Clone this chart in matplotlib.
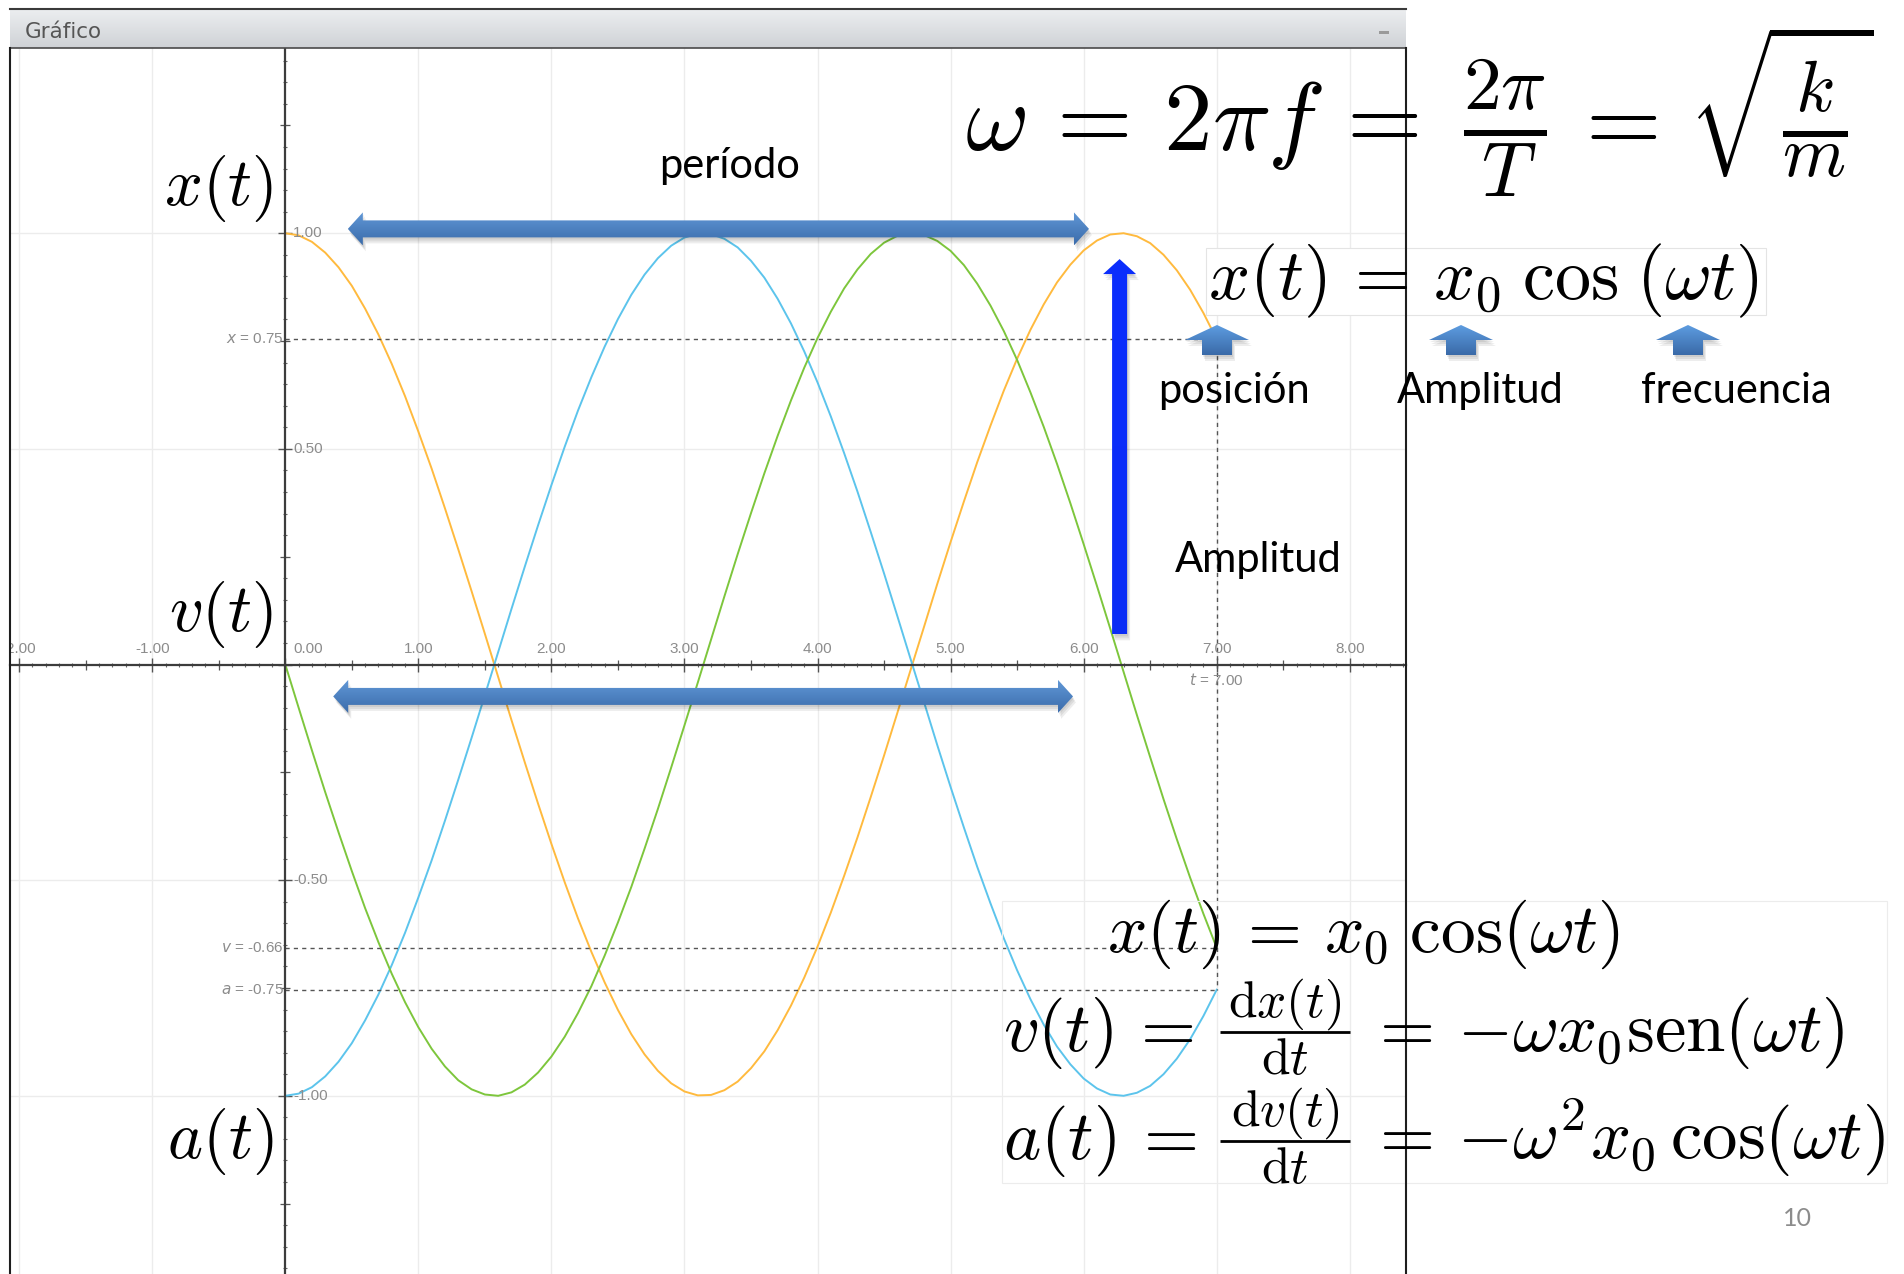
# simple harmonic motion: x(t), v(t) and a(t) drawn in a grapher-style window
# with the slide formulas and arrows laid over it
import numpy as np
import matplotlib.pyplot as plt
from matplotlib.patches import Polygon, Rectangle
from matplotlib.colors import LinearSegmentedColormap
from matplotlib.ticker import MultipleLocator

plt.rcParams['mathtext.fontset'] = 'cm'

#########
# DATA
#########

# sampled curves (omega = 1, x0 = 1), t from 0 to 7
t_vals = [0.0, 0.1, 0.2, 0.3, 0.4, 0.5, 0.6, 0.7, 0.8, 0.9,
          1.0, 1.1, 1.2, 1.3, 1.4, 1.5, 1.6, 1.7, 1.8, 1.9,
          2.0, 2.1, 2.2, 2.3, 2.4, 2.5, 2.6, 2.7, 2.8, 2.9,
          3.0, 3.1, 3.2, 3.3, 3.4, 3.5, 3.6, 3.7, 3.8, 3.9,
          4.0, 4.1, 4.2, 4.3, 4.4, 4.5, 4.6, 4.7, 4.8, 4.9,
          5.0, 5.1, 5.2, 5.3, 5.4, 5.5, 5.6, 5.7, 5.8, 5.9,
          6.0, 6.1, 6.2, 6.3, 6.4, 6.5, 6.6, 6.7, 6.8, 6.9, 7.0]
x_vals = [1.000, 0.995, 0.980, 0.955, 0.921, 0.878, 0.825, 0.765, 0.697, 0.622,
          0.540, 0.454, 0.362, 0.267, 0.170, 0.071, -0.029, -0.129, -0.227, -0.323,
          -0.416, -0.505, -0.589, -0.666, -0.737, -0.801, -0.857, -0.904, -0.942, -0.971,
          -0.990, -0.999, -0.998, -0.987, -0.967, -0.936, -0.897, -0.848, -0.791, -0.726,
          -0.654, -0.575, -0.490, -0.401, -0.307, -0.211, -0.112, -0.012, 0.087, 0.187,
          0.284, 0.378, 0.469, 0.554, 0.635, 0.709, 0.776, 0.835, 0.886, 0.927,
          0.960, 0.983, 0.997, 1.000, 0.993, 0.977, 0.950, 0.914, 0.869, 0.815, 0.754]
v_vals = [0.000, -0.100, -0.199, -0.296, -0.389, -0.479, -0.565, -0.644, -0.717, -0.783,
          -0.841, -0.891, -0.932, -0.964, -0.985, -0.997, -1.000, -0.992, -0.974, -0.946,
          -0.909, -0.863, -0.808, -0.746, -0.675, -0.598, -0.516, -0.427, -0.335, -0.239,
          -0.141, -0.042, 0.058, 0.158, 0.256, 0.351, 0.443, 0.530, 0.612, 0.688,
          0.757, 0.818, 0.872, 0.916, 0.952, 0.978, 0.994, 1.000, 0.996, 0.982,
          0.959, 0.926, 0.883, 0.832, 0.773, 0.706, 0.631, 0.551, 0.465, 0.374,
          0.279, 0.182, 0.083, -0.017, -0.117, -0.215, -0.312, -0.405, -0.494, -0.578, -0.657]
a_vals = [-1.000, -0.995, -0.980, -0.955, -0.921, -0.878, -0.825, -0.765, -0.697, -0.622,
          -0.540, -0.454, -0.362, -0.267, -0.170, -0.071, 0.029, 0.129, 0.227, 0.323,
          0.416, 0.505, 0.589, 0.666, 0.737, 0.801, 0.857, 0.904, 0.942, 0.971,
          0.990, 0.999, 0.998, 0.987, 0.967, 0.936, 0.897, 0.848, 0.791, 0.726,
          0.654, 0.575, 0.490, 0.401, 0.307, 0.211, 0.112, 0.012, -0.087, -0.187,
          -0.284, -0.378, -0.469, -0.554, -0.635, -0.709, -0.776, -0.835, -0.886, -0.927,
          -0.960, -0.983, -0.997, -1.000, -0.993, -0.977, -0.950, -0.914, -0.869, -0.815, -0.754]

x_ticks = [-2, -1, 0, 1, 2, 3, 4, 5, 6, 7, 8]
y_ticks = [1.0, 0.5, -0.5, -1.0]

# arrows in graph units: (t0, y0, t1, y1)
period_top = (0.47, 1.01, 6.04, 1.01)
period_bottom = (0.36, -0.074, 5.92, -0.074)
amplitude_arrow = (6.27, 0.07, 6.27, 0.94)

# formulas, split where the fractions use a different size
omega_parts = [r"$\omega\,=\,2\pi f\,=$", r"$\frac{2\pi}{T}$", r"$=$",
               r"$\sqrt{\frac{k}{m}}$"]
eq_x_box = r"$x(t)\,=\,x_0\;\mathrm{cos}\;(\omega t)$"
eq_x = r"$x(t)\,=\,x_0\;\cos(\omega t)$"
v_parts = [r"$v(t)\,=$", r"$\mathrm{d}x(t)$", r"$\mathrm{d}t$",
           r"$=\,{-\omega x_0\mathrm{sen}(\omega t)}$"]
a_parts = [r"$a(t)\,=$", r"$\mathrm{d}v(t)$", r"$\mathrm{d}t$",
           r"$=\,{-\omega^2 x_0\,\cos(\omega t)}$"]
side_labels = [r"$x(t)$", r"$v(t)$", r"$a(t)$"]
term_labels = ["posición", "Amplitud", "frecuencia"]

#########
# FIGURE AND GRAPH WINDOW
#########

W, H = 1904, 1274
fig = plt.figure(figsize=(W / 100, H / 100), dpi=100)
fig.patch.set_facecolor('white')

# window edges and graph origin, in pixels
win_left, win_right, win_top = 10, 1406, 48
org_x, org_y = 285.3, 664.5
unit_x, unit_y = 133.06, 431.3

ax = fig.add_axes([win_left / W, 0, (win_right - win_left) / W, 1 - win_top / H])
ax.set_xlim((win_left - org_x) / unit_x, (win_right - org_x) / unit_x)
ax.set_ylim((org_y - H) / unit_y, (org_y - win_top) / unit_y)
ax.patch.set_facecolor('white')

for side in ['top', 'right']:
    ax.spines[side].set_visible(False)
for side in ['left', 'bottom']:
    ax.spines[side].set_position(('data', 0))
    ax.spines[side].set_color('#3c3c3c')
    ax.spines[side].set_linewidth(1.6)
    ax.spines[side].set_zorder(3)

ax.xaxis.set_major_locator(MultipleLocator(1))
ax.xaxis.set_minor_locator(MultipleLocator(0.1))
ax.yaxis.set_major_locator(MultipleLocator(0.5))
ax.yaxis.set_minor_locator(MultipleLocator(0.05))
ax.tick_params(which='major', direction='inout', length=10, width=1.0,
               color='#555555', labelbottom=False, labelleft=False)
ax.tick_params(which='minor', direction='inout', length=3.5, width=0.8,
               color='#666666')

# half-unit ticks are a bit longer
half_t = np.arange(-1.5, 8.5, 1.0)
ax.plot(half_t, np.zeros_like(half_t), ls='none', marker='|', ms=6.5,
        mew=0.9, color='#555555', clip_on=False, zorder=3)
quarter_y = np.array([-1.25, -0.75, -0.25, 0.25, 0.75, 1.25])
ax.plot(np.zeros_like(quarter_y), quarter_y, ls='none', marker='_', ms=6.5,
        mew=0.9, color='#555555', clip_on=False, zorder=3)

# light grid
for t in x_ticks:
    if t != 0:
        ax.axvline(t, color='#ececec', lw=1, zorder=0)
for y in y_ticks:
    ax.axhline(y, color='#ececec', lw=1, zorder=0)

# curves
ax.plot(t_vals, x_vals, color='#FFBA3E', lw=1.4, zorder=2)
ax.plot(t_vals, a_vals, color='#5CC4EC', lw=1.4, zorder=2)
ax.plot(t_vals, v_vals, color='#7DC63C', lw=1.4, zorder=2)

# dashed guides to the end point t = 7
t_end = t_vals[-1]
dash = dict(color='#555555', lw=1.0, ls=(0, (3, 3)), zorder=2)
for y_end in [x_vals[-1], v_vals[-1], a_vals[-1]]:
    ax.plot([0, t_end], [y_end, y_end], **dash)
ax.plot([t_end, t_end], [x_vals[-1], a_vals[-1]], **dash)

# tick labels
lab = dict(fontsize=11, color='#8c8c8c', family='Liberation Sans', clip_on=True)
for t in x_ticks:
    tx = 0.17 if t == 0 else t
    ax.text(tx, 0.036, f"{t:.2f}", ha='center', va='center', **lab)
for y in y_ticks:
    ax.text(0.06, y, f"{y:.2f}", ha='left', va='center', **lab)

end_lab = dict(lab, math_fontfamily='dejavusans')
for name, y_end in [('x', x_vals[-1]), ('v', v_vals[-1]), ('a', a_vals[-1])]:
    ax.text(-0.012, y_end, f"${name}$ = {y_end:.2f}", ha='right', va='center',
            **end_lab)
ax.text(t_end, -0.036, f"$t$ = {t_end:.2f}", ha='center', va='center', **end_lab)

#########
# SLIDE OVERLAY (pixel coordinates, y down)
#########

sl = fig.add_axes([0, 0, 1, 1], zorder=5)
sl.patch.set_visible(False)
sl.axis('off')


def to_px(t, y):
    X, Y = ax.transData.transform((t, y))
    return X, H - Y


def gradient_fill(verts, top_color, bottom_color, z):
    patch = Polygon(verts, closed=True, fc='none', ec='none', zorder=z)
    sl.add_patch(patch)
    cmap = LinearSegmentedColormap.from_list('g', [top_color, bottom_color])
    x0, y0 = verts.min(axis=0)
    x1, y1 = verts.max(axis=0)
    grad = np.linspace(0, 1, 64).reshape(-1, 1)
    im = sl.imshow(grad, extent=(x0, x1, y1, y0), origin='upper', aspect='auto',
                   cmap=cmap, interpolation='bilinear', zorder=z)
    im.set_clip_path(patch)


def block_arrow(p0, p1, shaft, head_w, head_l, top_color, bottom_color,
                both=False, z=6):
    p0 = np.array(p0, float)
    p1 = np.array(p1, float)
    d = (p1 - p0) / np.hypot(*(p1 - p0))
    n = np.array([-d[1], d[0]])
    b1 = p1 - d * head_l
    b0 = p0 + d * head_l
    if both:
        verts = [p0, b0 + n * head_w / 2, b0 + n * shaft / 2]
    else:
        verts = [p0 + n * shaft / 2]
    verts += [b1 + n * shaft / 2, b1 + n * head_w / 2, p1,
              b1 - n * head_w / 2, b1 - n * shaft / 2]
    if both:
        verts += [b0 - n * shaft / 2, b0 - n * head_w / 2]
    else:
        verts += [p0 - n * shaft / 2]
    verts = np.array(verts)
    # soft drop shadow
    for off in [(1, 2), (2, 4), (3, 6)]:
        sl.add_patch(Polygon(verts + np.array(off), closed=True, fc='black',
                             ec='none', alpha=0.07, zorder=z - 1))
    gradient_fill(verts, top_color, bottom_color, z)


def math(x, y, s, size, ha='left'):
    sl.text(x, y, s, fontsize=size, ha=ha, va='baseline', zorder=8)


def fraction(x0, x1, y_bar, num, den, size):
    cx = (x0 + x1) / 2
    math(cx, y_bar - 15, num, size, ha='center')
    sl.plot([x0, x1], [y_bar, y_bar], color='black', lw=2.0,
            solid_capstyle='butt', zorder=8)
    math(cx, y_bar + 42, den, size, ha='center')


# title bar of the window
bar = np.array([[win_left, 9], [win_right, 9], [win_right, win_top], [win_left, win_top]], float)
gradient_fill(bar, '#eceef0', '#cfd2d6', 1)
sl.plot([win_left, win_right], [8.5, 8.5], color='#3a3a3a', lw=1.5, zorder=7)
sl.plot([win_left, win_right], [win_top, win_top], color='#4a4a4a', lw=1.2, zorder=7)
sl.text(25, 38, "Gráfico", fontsize=15.5, color='#555555', family='DejaVu Sans',
        ha='left', va='baseline', zorder=8)
sl.add_patch(Rectangle((1379, 31), 10, 3, fc='#9a9a9a', ec='none', zorder=8))

# window side borders
sl.plot([win_left - 0.5, win_left - 0.5], [win_top, H], color='#1e1e1e', lw=1.5, zorder=7)
sl.plot([win_right - 0.5, win_right - 0.5], [win_top, H], color='#1e1e1e', lw=1.5, zorder=7)

# period and amplitude arrows
for arr in [period_top, period_bottom]:
    block_arrow(to_px(arr[0], arr[1]), to_px(arr[2], arr[3]), 17, 33, 15,
                '#6097d6', '#3b6cab', both=True)
block_arrow(to_px(amplitude_arrow[0], amplitude_arrow[1]),
            to_px(amplitude_arrow[2], amplitude_arrow[3]), 15, 33, 15,
            '#0b2efd', '#0a2cf5')

# formula boxes
sl.add_patch(Rectangle((1206, 248), 560, 67, fc='white', ec='#e4e4e4', lw=0.8, zorder=4))
sl.add_patch(Rectangle((1002, 901), 885, 282, fc='none', ec='#ececec', lw=0.8, zorder=4))

# omega = 2 pi f = 2 pi / T = sqrt(k / m)
math(965, 150, omega_parts[0], 70)
math(1505, 152, omega_parts[1], 78, ha='center')
math(1613, 150, omega_parts[2], 70, ha='center')
math(1688, 151, omega_parts[3], 74)

# x(t) under the omega line
math(1208, 299, eq_x_box, 52)

# x(t), v(t), a(t) block
math(1107, 952, eq_x, 50)
for parts, yb, y_bar in [(v_parts, 1051, 1032), (a_parts, 1159, 1141)]:
    math(1003, yb, parts[0], 51)
    fraction(1220, 1350, y_bar, parts[1], parts[2], 37)
    math(1367, yb, parts[3], 51)

for txt, yb in zip(side_labels, [205, 631, 1158]):
    math(273, yb, txt, 48, ha='right')

# small arrows under the terms of x(t)
sans = dict(family='Lato', color='black', ha='center', va='baseline', zorder=8)
for cx, word, wx in zip([1217, 1461, 1688], term_labels, [1234, 1480, 1736]):
    block_arrow((cx, 355), (cx, 325), 30, 64, 15, '#5d9ce0', '#3a6aa8')
    sl.text(wx, 403, word, fontsize=30, **sans)

sl.text(730, 178, "período", fontsize=30, **sans)
sl.text(1258, 572, "Amplitud", fontsize=30, **sans)
sl.text(1797, 1226, "10", fontsize=18, family='Lato', color='#8c8c8c',
        ha='center', va='baseline', zorder=8)

sl.set_xlim(0, W)
sl.set_ylim(H, 0)

fig.savefig("out.png", dpi=100)
